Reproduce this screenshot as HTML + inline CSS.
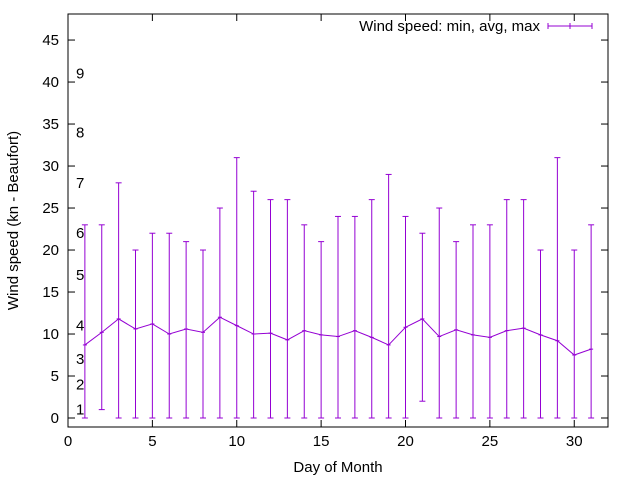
<!DOCTYPE html>
<html><head><meta charset="utf-8"><style>
body{margin:0;background:#fff}
svg{display:block;font-family:"Liberation Sans",sans-serif}
</style></head><body>
<svg id="c" width="640" height="480" viewBox="0 0 640 480" xmlns="http://www.w3.org/2000/svg"></svg>
<script>
const days=[1,2,3,4,5,6,7,8,9,10,11,12,13,14,15,16,17,18,19,20,21,22,23,24,25,26,27,28,29,30,31];
const mins=[0,1,0,0,0,0,0,0,0,0,0,0,0,0,0,0,0,0,0,0,2,0,0,0,0,0,0,0,0,0,0];
const avgs=[8.7,10.2,11.8,10.6,11.2,10.0,10.6,10.2,12.0,11.0,10.0,10.1,9.3,10.4,9.9,9.7,10.4,9.6,8.7,10.8,11.8,9.7,10.5,9.9,9.6,10.4,10.7,9.9,9.2,7.5,8.2];
const maxs=[23,23,28,20,22,22,21,20,25,31,27,26,26,23,21,24,24,26,29,24,22,25,21,23,23,26,26,20,31,20,23];
const xTicks=[0,5,10,15,20,25,30];
const yTicks=[0,5,10,15,20,25,30,35,40,45];
const beaufortLevels=[1,4,7,11,17,22,28,34,41];
const beaufortLabels=["1","2","3","4","5","6","7","8","9"];
const L=68,R=608,T=14,B=427,xmin=0,xmax=32,ymin=-1.07,ymax=48.1;
const X=v=>L+(v-xmin)/(xmax-xmin)*(R-L);
const Y=v=>B-(v-ymin)/(ymax-ymin)*(B-T);
const svg=document.getElementById('c');const NS="http://www.w3.org/2000/svg";
function mk(t,a,p){const e=document.createElementNS(NS,t);for(const k in a)e.setAttribute(k,a[k]);(p||svg).appendChild(e);return e;}
const C="#9400d3";
const frame=mk('rect',{x:L,y:T,width:R-L,height:B-T,fill:'none',stroke:'#000','stroke-width':1});


xTicks.forEach(v=>{const x=X(v);
mk('line',{x1:x,y1:B,x2:x,y2:B-7,stroke:'#000'});mk('line',{x1:x,y1:T,x2:x,y2:T+7,stroke:'#000'});
const t=mk('text',{x:x,y:B+19,'text-anchor':'middle','font-size':15});t.textContent=v;

});
yTicks.forEach(v=>{const y=Y(v);
mk('line',{x1:L,y1:y,x2:L+7,y2:y,stroke:'#000'});mk('line',{x1:R,y1:y,x2:R-7,y2:y,stroke:'#000'});
const t=mk('text',{x:L-9,y:y+5,'text-anchor':'end','font-size':15});t.textContent=v;

});
beaufortLevels.forEach((v,i)=>{const t=mk('text',{x:76,y:Y(v)+5,'font-size':15});t.textContent=beaufortLabels[i];

});
const xt=mk('text',{x:338,y:472,'text-anchor':'middle','font-size':15});xt.textContent="Day of Month";


const yt=mk('text',{x:0,y:0,'text-anchor':'middle','font-size':15,transform:`translate(18,${(T+B)/2}) rotate(-90)`});yt.textContent="Wind speed (kn - Beaufort)";


days.forEach((d,i)=>{const x=X(d);const g=mk('g',{stroke:C,'stroke-width':1});


mk('line',{x1:x,y1:Y(mins[i]),x2:x,y2:Y(maxs[i])},g);
mk('line',{x1:x-3,y1:Y(mins[i]),x2:x+3,y2:Y(mins[i])},g);
mk('line',{x1:x-3,y1:Y(maxs[i]),x2:x+3,y2:Y(maxs[i])},g);
mk('line',{x1:x-2,y1:Y(avgs[i]),x2:x+2,y2:Y(avgs[i])},g);});
const pl=mk('polyline',{points:days.map((d,i)=>X(d)+','+Y(avgs[i])).join(' '),fill:'none',stroke:C,'stroke-width':1});


const lt=mk('text',{x:540,y:31,'text-anchor':'end','font-size':15});lt.textContent="Wind speed: min, avg, max";


const lg=mk('g',{stroke:C});


mk('line',{x1:548,y1:26,x2:592,y2:26},lg);mk('line',{x1:548,y1:23,x2:548,y2:29},lg);mk('line',{x1:592,y1:23,x2:592,y2:29},lg);mk('line',{x1:570,y1:23,x2:570,y2:29},lg);
</script>
</body></html>
